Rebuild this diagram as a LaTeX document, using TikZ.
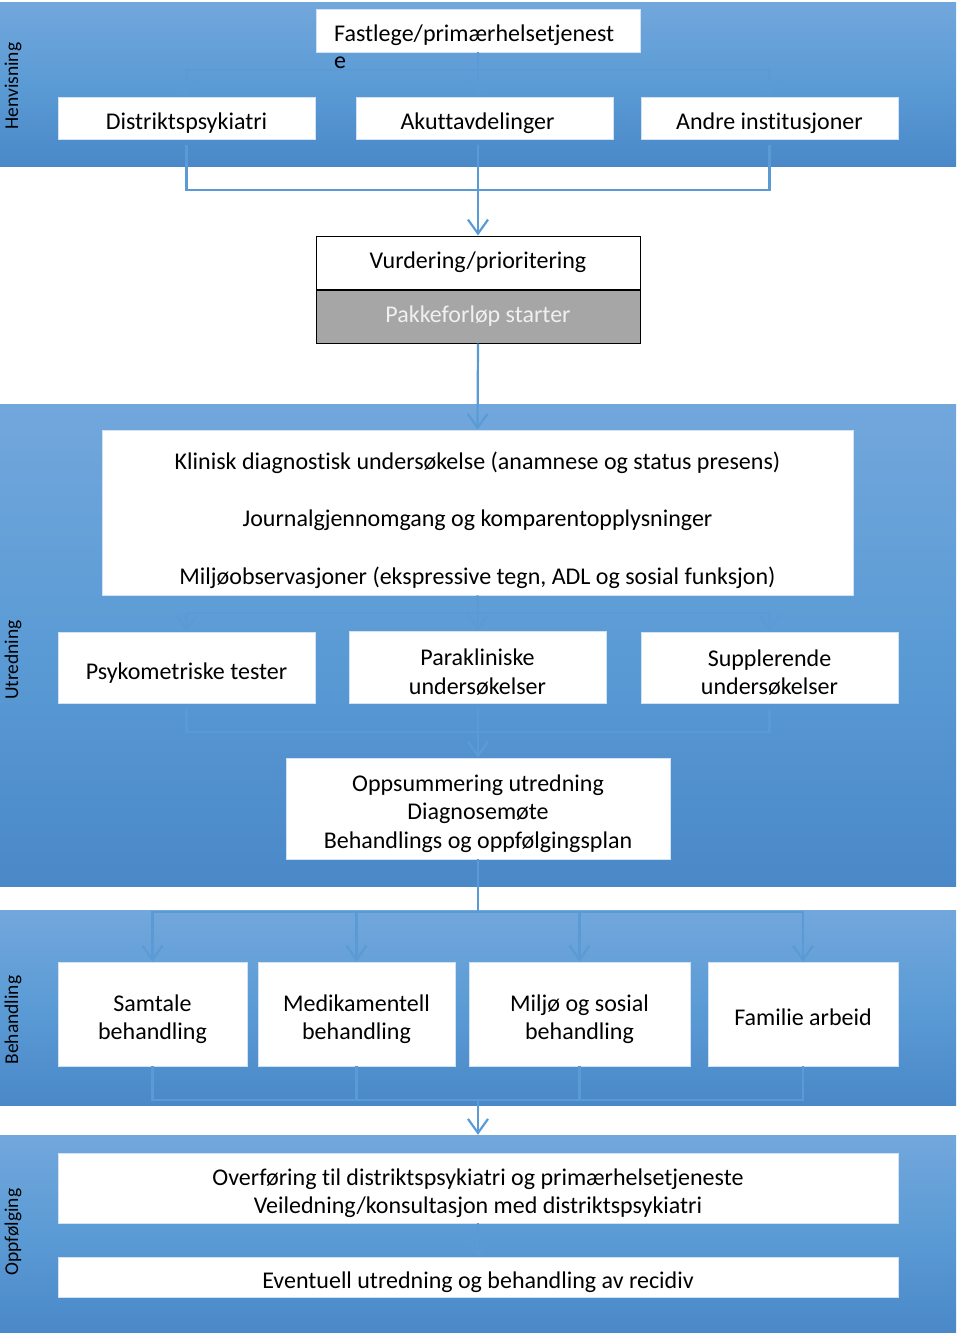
\documentclass[tikz,border=0pt]{standalone}
\usepackage{fontspec}
\setmainfont{Carlito}[Ligatures=NoCommon]
\usepackage{tikz}
\usetikzlibrary{positioning,arrows.meta,calc}
\definecolor{bandtop}{HTML}{72A7DC}
\definecolor{bandmid}{HTML}{5B9BD5}
\definecolor{bandbot}{HTML}{4A88C8}
\definecolor{conn}{HTML}{5B9BD5}
\definecolor{boxline}{HTML}{D0E2F3}
\definecolor{pakkegray}{HTML}{A6A6A6}
% extra room above the first line, so the text sits low in the box as in Word
\newcommand{\tpad}[1][27pt]{\rule{0pt}{#1}}

\begin{document}
\begin{tikzpicture}[x=1pt,y=1pt,
  every node/.style={font=\fontsize{24}{28.5}\selectfont,align=center,inner sep=0pt},
  band/.style={rectangle,minimum width=956pt,top color=bandtop,bottom color=bandbot,middle color=bandmid},
  bandlabel/.style={rotate=90,font=\fontsize{19.5}{22}\selectfont},
  wbox/.style={rectangle,fill=white,draw=boxline,line width=0.8pt},
  vbox/.style={rectangle,draw=black,line width=1pt,minimum width=324pt,minimum height=53pt},
  conline/.style={conn,line width=2.2pt},
  arr/.style={conline,-{Straight Barb[length=14pt,width=20pt]}},
]
\useasboundingbox (0,0) rectangle (956,-1333);

% bands
\node[band,minimum height=164pt] (henv) at (478,-84) {};
\node[band,minimum height=482pt] (utr) at (478,-645) {};
\node[band,minimum height=195pt] (beh) at (478,-1007.5) {};
\node[band,minimum height=198pt] (oppf) at (478,-1234) {};

\node[bandlabel] (henvlab) at (13,-86) {Henvisning};
\node[bandlabel] (utrlab) at (13,-660) {Utredning};
\node[bandlabel] (behlab) at (13,-1020) {Behandling};
\node[bandlabel] (oppflab) at (13,-1232) {Oppfølging};

% Henvisning
\node[wbox,minimum width=324pt,minimum height=43pt] (fast) at (478,-30.5) {};
\node[wbox,minimum width=257pt,minimum height=42pt] (dist) at (186.5,-118) {\tpad Distriktspsykiatri};
\node[wbox,minimum width=257pt,minimum height=42pt] (akutt) at (484.5,-118) {\tpad\hspace*{-14pt}Akuttavdelinger};
\node[wbox,minimum width=257pt,minimum height=42pt] (andre) at (769.5,-118) {\tpad Andre institusjoner};

\coordinate (hsplit) at (478,-70);
\draw[conline] (fast.south) -- (hsplit);
\draw[arr] (hsplit) -| (dist.north);
\draw[arr] (hsplit) -- (hsplit |- akutt.north);
\draw[arr] (hsplit) -| (andre.north);
\node[anchor=north west,align=left] (fasttxt) at (334,-25) {Fastlege/primærhelsetjenest\\[-1.5pt]e};

\node[vbox,fill=white] (vurd) at (478,-262.5) {Vurdering/prioritering};
\node[vbox,fill=pakkegray,text=white!94!black,below=0pt of vurd] (pakke) {Pakkeforløp starter};

\coordinate (hjoin) at (478,-190);
\draw[conline,shorten <=6pt] (dist.south) |- (hjoin);
\draw[conline,shorten <=6pt] (andre.south) |- (hjoin);
\draw[arr,shorten <=6pt] (hjoin |- akutt.south) -- (vurd.north);

% Utredning
\node[wbox,minimum width=751pt,minimum height=165pt] (klin) at (477.5,-512.5)
  {\tpad[33pt]Klinisk diagnostisk undersøkelse (anamnese og status presens)\\[29pt]
   Journalgjennomgang og komparentopplysninger\\[29pt]
   Miljøobservasjoner (ekspressive tegn, ADL og sosial funksjon)};
\draw[arr] (pakke.south) -- (klin.north);

\node[wbox,minimum width=257pt,minimum height=71pt] (psyk) at (186.5,-667.5) {\tpad Psykometriske tester};
\node[wbox,minimum width=257pt,minimum height=72pt] (para) at (477.5,-667) {\tpad Parakliniske\\undersøkelser};
\node[wbox,minimum width=257pt,minimum height=71pt] (supp) at (769.5,-667.5) {\tpad Supplerende\\undersøkelser};
\node[wbox,minimum width=384pt,minimum height=101pt] (opps) at (478,-808.5)
  {\tpad Oppsummering utredning\\Diagnosemøte\\Behandlings og oppfølgingsplan};

\coordinate (usplit) at (478,-613);
\draw[conline] (klin.south) -- (usplit);
\draw[arr] (usplit) -| (psyk.north);
\draw[arr] (usplit) -- (usplit |- para.north);
\draw[arr] (usplit) -| (supp.north);
\coordinate (ujoin) at (478,-732);
\draw[conline,shorten <=6pt] (psyk.south) |- (ujoin);
\draw[conline,shorten <=6pt] (supp.south) |- (ujoin);
\draw[arr,shorten <=6pt] (ujoin |- para.south) -- (opps.north);

% Behandling
\node[wbox,minimum width=189pt,minimum height=104pt] (samt) at (152.5,-1014) {\tpad Samtale\\behandling};
\node[wbox,minimum width=197pt,minimum height=104pt] (medik) at (356.5,-1014) {\tpad Medikamentell\\behandling};
\node[wbox,minimum width=221pt,minimum height=104pt] (milj) at (579.5,-1014) {\tpad Miljø og sosial\\behandling};
\node[wbox,minimum width=190pt,minimum height=104pt] (fam) at (803,-1014) {\tpad[24pt]Familie arbeid};

\coordinate (bsplit) at (478,-912);
\draw[conline] (opps.south) -- (bsplit);
\draw[arr] (bsplit) -| (samt.north);
\draw[arr] (bsplit) -| (medik.north);
\draw[arr] (bsplit) -| (milj.north);
\draw[arr] (bsplit) -| (fam.north);
\coordinate (bjoin) at (478,-1100);
\draw[conline] (samt.south) |- (bjoin);
\draw[conline] (medik.south) |- (bjoin);
\draw[conline] (milj.south) |- (bjoin);
\draw[conline] (fam.south) |- (bjoin);
\draw[arr] (bjoin) -- (oppf.north);

% Oppfølging
\node[wbox,minimum width=840pt,minimum height=70pt] (overf) at (478,-1188)
  {\tpad Overføring til distriktspsykiatri og primærhelsetjeneste\\Veiledning/konsultasjon med distriktspsykiatri};
\node[wbox,minimum width=840pt,minimum height=40pt] (event) at (478,-1277) {\tpad Eventuell utredning og behandling av recidiv};
\draw[arr] (overf.south) -- (event.north);
\end{tikzpicture}
\end{document}
